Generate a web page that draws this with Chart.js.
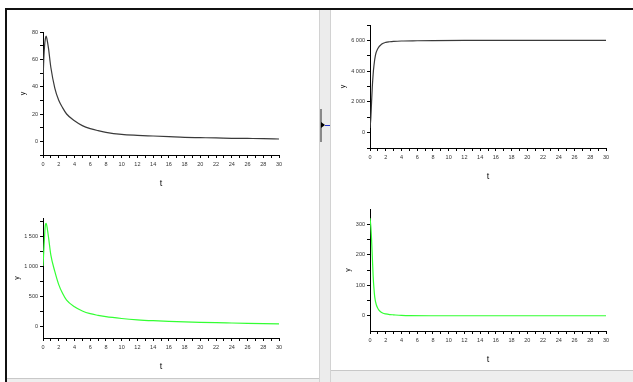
<!DOCTYPE html>
<html>
<head>
<meta charset="utf-8">
<script src="https://cdn.jsdelivr.net/npm/chart.js@4.4.1/dist/chart.umd.min.js"></script>
<style>
  body { margin: 0; background: #fff; }
  #wrap { position: relative; width: 633px; height: 382px; overflow: hidden; background: #fff; }
  .plot { position: absolute; }
  .topline { position: absolute; left: 5px; right: 0; top: 8px; height: 2px; background: #111; }
  .leftline { position: absolute; left: 5px; top: 8px; width: 2px; bottom: 0; background: #111; }
  .split { position: absolute; left: 319px; top: 10px; width: 10px; bottom: 0; background: #ececec;
           border-left: 1px solid #d2d2d2; border-right: 1px solid #d2d2d2; }
  .grip { position: absolute; left: 320px; top: 109px; width: 2px; height: 33px; background: #8a8a8a; }
  .arrow { position: absolute; left: 321px; top: 122px; width: 0; height: 0;
           border-top: 3px solid transparent; border-bottom: 3px solid transparent; border-left: 4px solid #000; }
  .arrowline { position: absolute; left: 325px; top: 125px; width: 5px; height: 1px; background: #2233cc; }
  .barL { position: absolute; left: 7px; top: 378px; width: 312px; height: 4px; background: #eee; border-top: 1px solid #c8c8c8; }
  .barR { position: absolute; left: 331px; top: 370px; right: 0; height: 12px; background: #eee; border-top: 1px solid #c8c8c8; }
</style>
</head>
<body>
<div id="wrap">
  <div class="topline"></div>
  <div class="leftline"></div>
  <div class="split"></div>
  <div class="grip"></div>
  <div class="arrow"></div>
  <div class="arrowline"></div>
  <div class="barL"></div>
  <div class="barR"></div>
  <canvas id="c1" class="plot"></canvas>
  <canvas id="c2" class="plot"></canvas>
  <canvas id="c3" class="plot"></canvas>
  <canvas id="c4" class="plot"></canvas>
</div>
<script>
// время (общая ось t)
const tTicks = [];
for (let i = 0; i <= 30; i++) tTicks.push(i);
const tLabels = [0, 2, 4, 6, 8, 10, 12, 14, 16, 18, 20, 22, 24, 26, 28, 30];

// левые графики: y1 (серый) и y3 (зелёный)
const tLeft = [0, 0.1, 0.2, 0.3, 0.4, 0.5, 0.7, 1, 1.5, 2, 2.5, 3, 4, 5, 6, 7, 8, 10, 12, 14, 16, 18, 20, 22, 24, 26, 28, 30];
const y1 = [45, 60, 70, 75, 77, 75, 68, 54, 39, 30, 24.5, 20, 15, 11.5, 9.3, 7.8, 6.6, 5.1, 4.4, 3.9, 3.4, 2.9, 2.7, 2.5, 2.2, 2.1, 2.0, 1.7];
const y3 = [1000, 1250, 1500, 1680, 1710, 1660, 1480, 1180, 910, 690, 540, 430, 320, 250, 205, 178, 155, 125, 103, 88, 77, 68, 61, 55, 50, 45, 40, 35];

// правый верхний: y2
const t2 = [0, 0.1, 0.2, 0.3, 0.4, 0.5, 0.7, 1, 1.5, 2, 2.5, 3, 4, 6, 8, 12, 20, 30];
const y2 = [300, 900, 2000, 3050, 3800, 4350, 5050, 5470, 5760, 5870, 5910, 5935, 5960, 5975, 5985, 5995, 6000, 6000];

// правый нижний: y4
const t4 = [0, 0.1, 0.2, 0.3, 0.4, 0.5, 0.6, 0.8, 1, 1.3, 1.6, 2, 2.5, 3, 4, 5, 8, 30];
const y4 = [320, 295, 250, 190, 130, 90, 62, 36, 24, 14, 9, 6, 4, 3, 1.2, 0.3, 0, 0];

// деления оси y
const y1Major = [0, 20, 40, 60, 80];
const y1Minor = [-10, 10, 30, 50, 70];
const y2Major = [0, 2000, 4000, 6000];
const y2Minor = [-1000, 1000, 3000, 5000, 7000];
const y3Major = [0, 500, 1000, 1500];
const y3Minor = [250, 750, 1250, 1750];
const y4Major = [0, 100, 200, 300];
const y4Minor = [50, 150, 250];

const GREY = '#3a3a3a';
const GREEN = '#33ff33';

function fmt(v) {
  return String(v).replace(/\B(?=(\d{3})+(?!\d))/g, ' ');
}

function makePlot(id, area, t, vals, color, yMin, yMax, yMajor, yMinor, yPad) {
  const yW = 40, padT = 6, padR = 12, xH = 36;
  const cv = document.getElementById(id);
  cv.width = area.r - area.l + yW + padR;
  cv.height = area.b - area.t + padT + xH;
  cv.style.left = (area.l - yW) + 'px';
  cv.style.top = (area.t - padT) + 'px';

  const yTicks = yMajor.concat(yMinor).sort((a, b) => a - b);
  const tickFont = { family: 'Liberation Sans, Arial, sans-serif', size: 5.5 };

  new Chart(cv, {
    type: 'line',
    data: {
      datasets: [{
        data: t.map((x, i) => ({ x: x, y: vals[i] })),
        borderColor: color,
        borderWidth: 1.2,
        pointRadius: 0,
        fill: false,
        cubicInterpolationMode: 'monotone'
      }]
    },
    options: {
      responsive: false,
      animation: false,
      devicePixelRatio: 1,
      layout: { padding: { left: 0, top: padT, right: padR, bottom: 0 } },
      plugins: { legend: { display: false }, tooltip: { enabled: false } },
      scales: {
        x: {
          type: 'linear',
          min: 0,
          max: 30,
          afterBuildTicks: s => { s.ticks = tTicks.map(v => ({ value: v })); },
          afterFit: s => { s.height = xH; },
          grid: { drawOnChartArea: false, drawTicks: true, tickLength: 3, color: '#000' },
          border: { display: true, color: '#000', width: 1 },
          ticks: {
            autoSkip: false, maxRotation: 0, padding: 3, color: '#333', font: tickFont,
            callback: v => tLabels.includes(v) ? String(v) : ''
          },
          title: {
            display: true, text: 't', color: '#111',
            font: { family: 'Liberation Sans, Arial, sans-serif', size: 9 },
            padding: { top: 0, bottom: 2 }
          }
        },
        y: {
          min: yMin,
          max: yMax,
          afterBuildTicks: s => { s.ticks = yTicks.map(v => ({ value: v })); },
          afterFit: s => { s.width = yW; },
          grid: { drawOnChartArea: false, drawTicks: true, tickLength: 3, color: '#000' },
          border: { display: true, color: '#000', width: 1 },
          ticks: {
            autoSkip: false, padding: 2, color: '#333', font: tickFont,
            callback: v => yMajor.includes(v) ? fmt(v) : ''
          },
          title: {
            display: true, text: 'y', color: '#111',
            font: { family: 'Liberation Sans, Arial, sans-serif', size: 7 },
            padding: { top: yPad, bottom: 0 }
          }
        }
      }
    }
  });
}

makePlot('c1', { l: 43, r: 279, t: 32, b: 155 }, tLeft, y1, GREY, -10, 80, y1Major, y1Minor, 16);
makePlot('c2', { l: 370, r: 606, t: 25, b: 148 }, t2, y2, GREY, -1000, 7000, y2Major, y2Minor, 9);
makePlot('c3', { l: 43, r: 279, t: 218, b: 338 }, tLeft, y3, GREEN, -200, 1800, y3Major, y3Minor, 10);
makePlot('c4', { l: 370, r: 606, t: 209, b: 331 }, t4, y4, GREEN, -50, 350, y4Major, y4Minor, 14);
</script>
</body>
</html>
